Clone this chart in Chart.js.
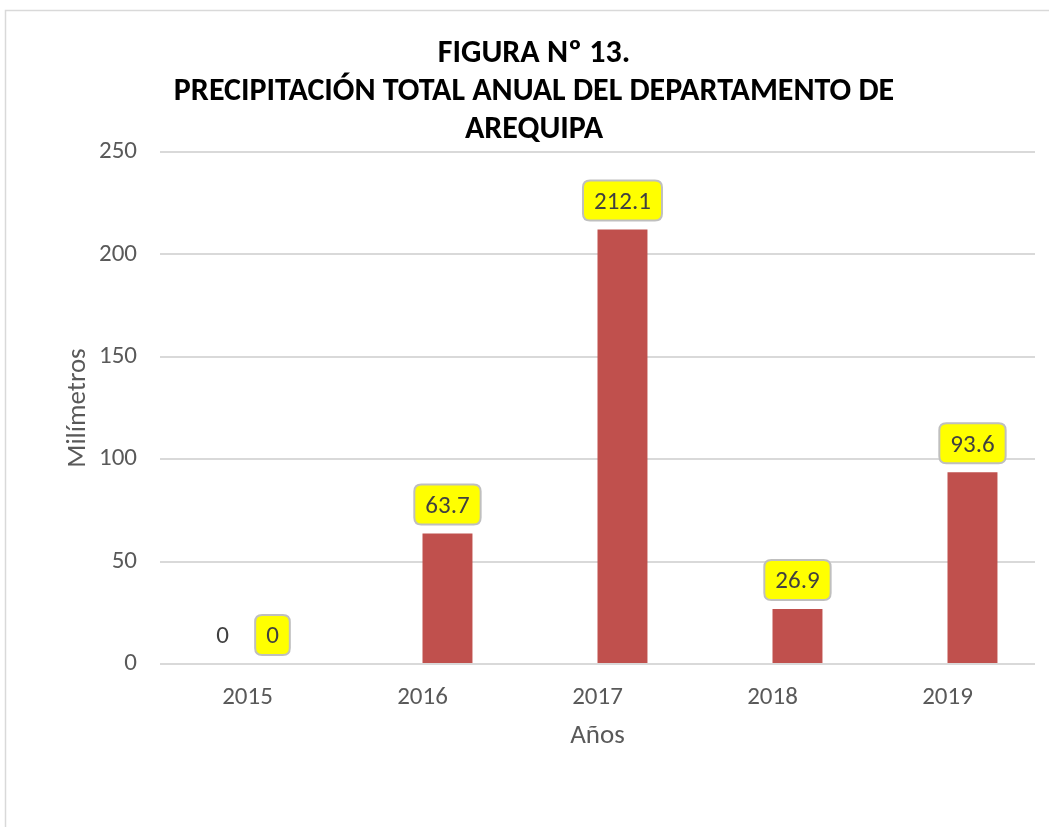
<!DOCTYPE html>
<html>
<head>
<meta charset="utf-8">
<script src="https://cdn.jsdelivr.net/npm/chart.js@4/dist/chart.umd.min.js"></script>
<style>
html,body{margin:0;padding:0;background:#fff;}
#wrap{position:relative;width:1049px;height:827px;}
</style>
</head>
<body>
<div id="wrap"><canvas id="c" width="1049" height="827"></canvas></div>
<script>
const categories = ['2015', '2016', '2017', '2018', '2019'];
const hiddenSeries = [0, null, null, null, null];
const precipitation = [0, 63.7, 212.1, 26.9, 93.6];
const yTicks = [0, 50, 100, 150, 200, 250];
const titleLines = ['FIGURA Nº 13.', 'PRECIPITACIÓN TOTAL ANUAL DEL DEPARTAMENTO DE', 'AREQUIPA'];

const FONT = 'Carlito, Lato, "Open Sans", sans-serif';
const TXT = '#595959';

const framePlugin = {
  id: 'frame',
  beforeDraw(chart) {
    const ctx = chart.ctx;
    ctx.save();
    ctx.fillStyle = '#fff';
    ctx.fillRect(0, 0, chart.width, chart.height);
    ctx.strokeStyle = '#d9d9d9';
    ctx.lineWidth = 1.5;
    ctx.strokeRect(5.5, 10.5, 1200, 1000);
    ctx.fillStyle = '#000';
    ctx.font = 'bold 32px ' + FONT;
    ctx.textAlign = 'center';
    ctx.textBaseline = 'middle';
    const ys = [54, 92, 130];
    titleLines.forEach((t, i) => ctx.fillText(t, 534, ys[i]));
    ctx.restore();
  }
};

function roundRect(ctx, x, y, w, h, r) {
  ctx.beginPath();
  ctx.moveTo(x + r, y);
  ctx.lineTo(x + w - r, y);
  ctx.quadraticCurveTo(x + w, y, x + w, y + r);
  ctx.lineTo(x + w, y + h - r);
  ctx.quadraticCurveTo(x + w, y + h, x + w - r, y + h);
  ctx.lineTo(x + r, y + h);
  ctx.quadraticCurveTo(x, y + h, x, y + h - r);
  ctx.lineTo(x, y + r);
  ctx.quadraticCurveTo(x, y, x + r, y);
  ctx.closePath();
}

const labelPlugin = {
  id: 'barLabels',
  afterDatasetsDraw(chart) {
    const ctx = chart.ctx;
    ctx.save();
    ctx.font = '25px ' + FONT;
    ctx.textAlign = 'center';
    ctx.textBaseline = 'middle';
    chart.data.datasets.forEach((ds, di) => {
      const meta = chart.getDatasetMeta(di);
      meta.data.forEach((el, i) => {
        const v = ds.data[i];
        if (v === null || v === undefined) return;
        const txt = String(v);
        const cx = el.x;
        const cy = el.y - 9 - 20;
        if (ds.boxed) {
          const w = ctx.measureText(txt).width + 22;
          const h = 40;
          roundRect(ctx, cx - w / 2, cy - h / 2, w, h, 7);
          ctx.fillStyle = '#ffff00';
          ctx.fill();
          ctx.strokeStyle = '#bfbfbf';
          ctx.lineWidth = 2;
          ctx.stroke();
        }
        ctx.fillStyle = '#404040';
        ctx.fillText(txt, cx, cy + 2);
      });
    });
    ctx.restore();
  }
};

new Chart(document.getElementById('c'), {
  type: 'bar',
  data: {
    labels: categories,
    datasets: [
      { label: 'Serie 1', data: hiddenSeries, backgroundColor: 'rgba(0,0,0,0)', boxed: false },
      { label: 'Precipitación', data: precipitation, backgroundColor: '#c0504d', boxed: true }
    ]
  },
  options: {
    responsive: false,
    animation: false,
    devicePixelRatio: 1,
    categoryPercentage: 0.571,
    barPercentage: 1,
    layout: { padding: { left: 62, right: 14, top: 152, bottom: 75 } },
    plugins: {
      legend: { display: false },
      tooltip: { enabled: false },
      title: { display: false }
    },
    scales: {
      x: {
        afterFit(scale) { scale.height = 88; },
        grid: { display: false, drawTicks: false },
        border: { display: false },
        ticks: { color: TXT, font: { family: FONT, size: 25 }, padding: 19 },
        title: { display: true, text: 'Años', color: TXT, font: { family: FONT, size: 27 }, padding: { top: 11, bottom: 0 } }
      },
      y: {
        min: 0, max: 250,
        afterBuildTicks(scale) { scale.ticks = yTicks.map(v => ({ value: v })); },
        afterFit(scale) { scale.width = 98; },
        grid: { color: '#d9d9d9', lineWidth: 2, drawTicks: false },
        border: { display: false },
        ticks: { color: TXT, font: { family: FONT, size: 25 }, padding: 23 },
        title: { display: true, text: 'Milímetros', color: TXT, font: { family: FONT, size: 27 }, padding: 0 }
      }
    }
  },
  plugins: [framePlugin, labelPlugin]
});
</script>
</body>
</html>
